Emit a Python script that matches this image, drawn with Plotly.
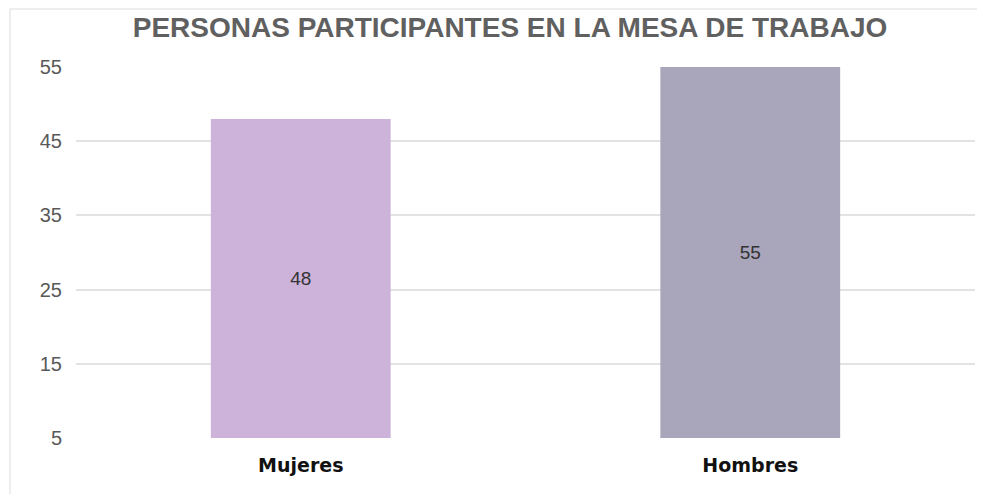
import plotly.graph_objects as go

# data
categories = ["Mujeres", "Hombres"]
values = [48, 55]
bar_colors = ["#CDB2DA", "#A9A5BA"]
y_ticks = [5, 15, 25, 35, 45, 55]

fig = go.Figure()

fig.add_trace(
    go.Bar(
        x=categories,
        y=[v - y_ticks[0] for v in values],
        base=y_ticks[0],
        marker=dict(color=bar_colors, line=dict(width=0)),
        text=values,
        textposition="inside",
        insidetextanchor="middle",
        textfont=dict(family="Liberation Sans, Arial", size=19, color="#333333"),
        width=0.4,
        hoverinfo="skip",
    )
)

# page body keeps an 8px margin, so shrink the figure to avoid scrollbars
W, H = 969, 486
fig.update_layout(
    width=W,
    height=H,
    margin=dict(l=68, r=2, t=59, b=56),
    paper_bgcolor="white",
    plot_bgcolor="white",
    showlegend=False,
    title=dict(
        text="<b>PERSONAS PARTICIPANTES EN LA MESA DE TRABAJO</b>",
        x=502 / W,
        xanchor="center",
        y=1 - 19 / H,
        yanchor="middle",
        font=dict(family="Liberation Sans, Arial", size=28, color="#606060"),
    ),
    xaxis=dict(
        showgrid=False,
        showline=False,
        ticks="",
        tickfont=dict(family="DejaVu Sans, Arial", size=19, color="#111111", weight="bold"),
        ticklabelstandoff=14,
    ),
    yaxis=dict(
        range=[y_ticks[0], y_ticks[-1]],
        tickvals=y_ticks,
        showgrid=True,
        gridcolor="#E3E3E3",
        gridwidth=1.5,
        zeroline=False,
        showline=False,
        ticks="",
        tickfont=dict(family="Liberation Sans, Arial", size=20, color="#595959"),
        ticklabelstandoff=13,
    ),
    shapes=[
        dict(type="line", xref="paper", yref="paper",
             x0=-0.0734, x1=1.02, y0=1.156, y1=1.156,
             line=dict(color="#E8E8E8", width=1.5)),
        dict(type="line", xref="paper", yref="paper",
             x0=-0.0734, x1=-0.0734, y0=-0.2, y1=1.156,
             line=dict(color="#E8E8E8", width=1.5)),
    ],
)

fig.write_html("out.html")
